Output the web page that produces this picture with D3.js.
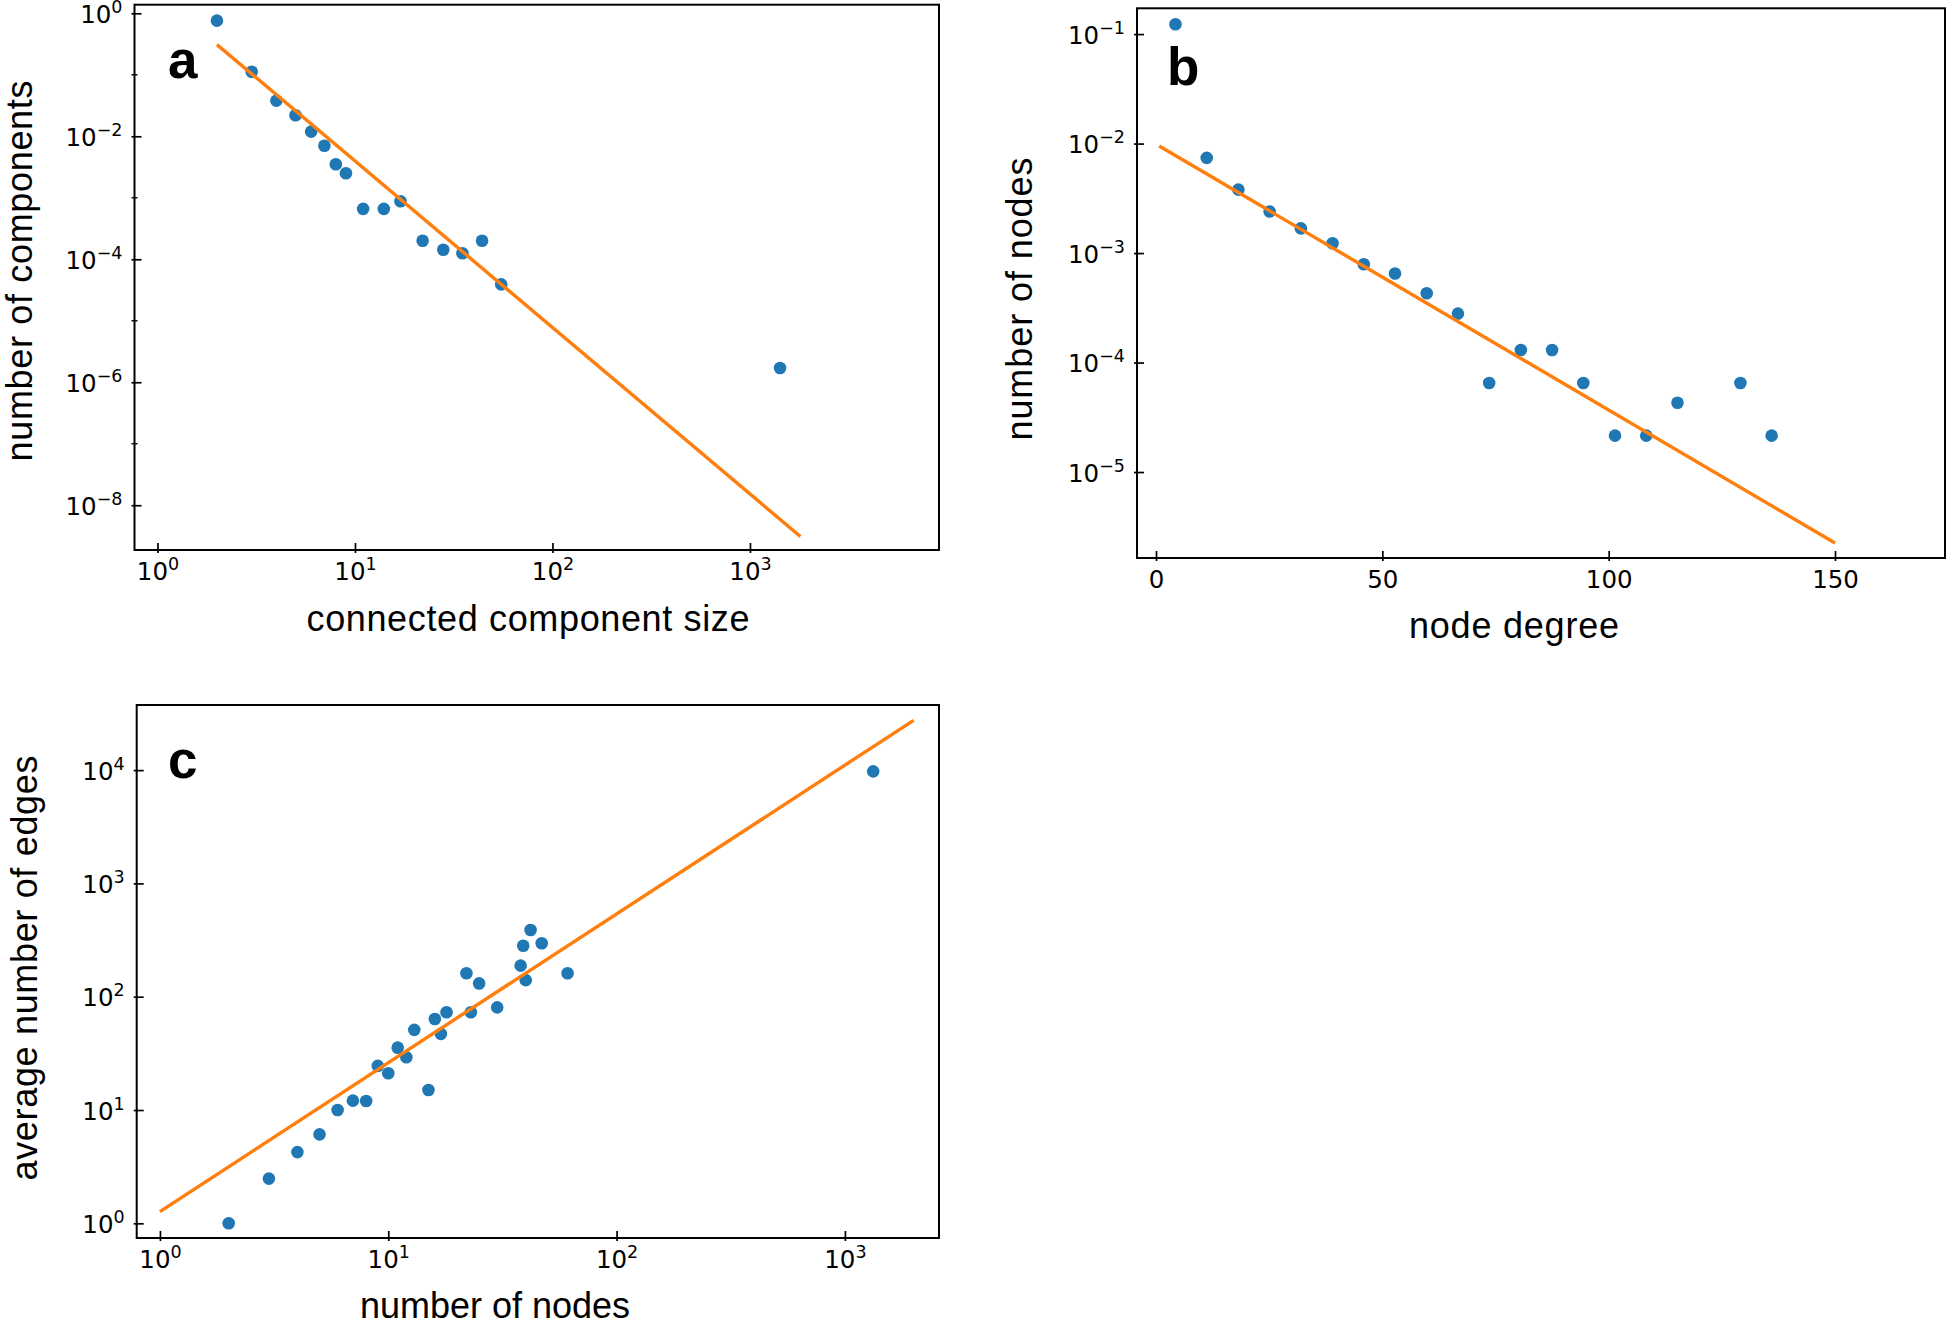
<!DOCTYPE html>
<html>
<head>
<meta charset="utf-8">
<script src="https://cdn.jsdelivr.net/npm/d3@7"></script>
<style>
  html, body { margin: 0; padding: 0; background: #fff; }
  svg { display: block; }
</style>
</head>
<body>
<svg id="chart" width="1947" height="1321"></svg>
<script>
// ---------- data ----------
// panel a: connected component size distribution
const sizeA  = [2, 3, 4, 5, 6, 7, 8, 9, 11, 14, 17, 22, 28, 35, 44, 55, 1420];
const countA = [0.76, 0.112, 0.038, 0.022, 0.0119, 0.0070, 0.0035, 0.0025, 6.6e-4, 6.6e-4, 8.8e-4, 2.0e-4, 1.43e-4, 1.25e-4, 2.0e-4, 3.9e-5, 1.7e-6];
const fitSizeA  = [2, 1800];
const fitCountA = [0.31, 3.1e-9];

// panel b: node degree distribution
const degreeB = [4.3, 11.2, 18.2, 25.1, 32.0, 39.0, 45.9, 52.8, 59.8, 66.7, 73.6, 80.6, 87.5, 94.4, 101.4, 108.3, 115.2, 129.1, 136.0];
const nodesB  = [0.123, 0.0074, 0.0038, 0.0024, 0.00168, 0.00123, 0.00079, 0.00065, 0.00043, 0.00028, 6.5e-5, 1.3e-4, 1.3e-4, 6.5e-5, 2.15e-5, 2.15e-5, 4.3e-5, 6.5e-5, 2.15e-5];
const fitDegreeB = [0.7, 150];
const fitNodesB  = [0.0095, 2.25e-6];

// panel c: average number of edges vs number of nodes
const nodesC = [2, 3, 4, 5, 6, 7, 8, 9, 10, 11, 12, 13, 15, 16, 17, 18, 22, 23, 25, 30, 38, 39, 40, 42, 47, 61, 1330];
const edgesC = [1.0, 2.48, 4.25, 6.1, 10, 12.1, 12.0, 24.5, 21.1, 35.5, 29.2, 51, 15.0, 63.5, 47, 73, 161, 73, 131, 80.5, 188, 282, 140, 388, 296, 161, 9750];
const fitNodesC = [1, 2000];
const fitEdgesC = [1.27, 27500];

// ticks
const logTicksA_x = [1, 10, 100, 1000];
const logTicksA_y = [1, 1e-2, 1e-4, 1e-6, 1e-8];
const minorTicksA_y = [1e-1, 1e-3, 1e-5, 1e-7];
const ticksB_x = [0, 50, 100, 150];
const logTicksB_y = [1e-1, 1e-2, 1e-3, 1e-4, 1e-5];
const logTicksC_x = [1, 10, 100, 1000];
const logTicksC_y = [1, 10, 100, 1000, 10000];

// ---------- drawing ----------
const svg = d3.select('#chart');
const BLUE = '#1f77b4', ORANGE = '#ff7f0e';
const TICK_FONT = "'DejaVu Sans', sans-serif";
const LABEL_FONT = "'Liberation Sans', Arial, sans-serif";

function sup(sel, v) {
  const e = Math.round(Math.log10(v));
  sel.text(null);
  sel.append('tspan').text('10');
  sel.append('tspan').attr('dy', -10).attr('font-size', 17.5)
     .text(e < 0 ? '\u2212' + (-e) : String(e));
}

function panel(cfg) {
  const g = svg.append('g');
  const {l, r, t, b} = cfg.box;
  const x = cfg.xScale.range([l, r]);
  const y = cfg.yScale.range([b, t]);

  // points
  g.append('g').selectAll('circle')
    .data(cfg.xs.map((v, i) => [v, cfg.ys[i]]))
    .join('circle')
    .attr('cx', d => x(d[0])).attr('cy', d => y(d[1]))
    .attr('r', 6.3).attr('fill', BLUE);

  // fit line
  g.append('path')
    .datum(cfg.fx.map((v, i) => [v, cfg.fy[i]]))
    .attr('d', d3.line().x(d => x(d[0])).y(d => y(d[1])))
    .attr('fill', 'none').attr('stroke', ORANGE).attr('stroke-width', 3.4);

  // x axis
  const xa = g.append('g').attr('transform', `translate(0,${b})`)
    .call(d3.axisBottom(x).tickValues(cfg.xTicks).tickSizeInner(-7).tickSizeOuter(0));
  xa.select('.domain').remove();
  xa.attr('font-family', TICK_FONT).attr('font-size', 24.5);
  xa.selectAll('.tick line').attr('y1', 3).attr('stroke', '#000').attr('stroke-width', 1.7);
  xa.selectAll('.tick text').attr('y', 30).attr('dy', null).attr('fill', '#000')
    .each(function(d) { if (cfg.xLog) sup(d3.select(this), d); else d3.select(this).text(d); });

  // y axis
  const ya = g.append('g').attr('transform', `translate(${l},0)`)
    .call(d3.axisLeft(y).tickValues(cfg.yTicks).tickSizeInner(-7).tickSizeOuter(0));
  ya.select('.domain').remove();
  ya.attr('font-family', TICK_FONT).attr('font-size', 24.5);
  ya.selectAll('.tick line').attr('x1', -3).attr('stroke', '#000').attr('stroke-width', 1.7);
  ya.selectAll('.tick text').attr('x', -12).attr('y', 9).attr('dy', null).attr('fill', '#000')
    .each(function(d) { sup(d3.select(this), d); });

  if (cfg.yMinor) {
    g.append('g').selectAll('line').data(cfg.yMinor).join('line')
      .attr('x1', l - 3).attr('x2', l + 3)
      .attr('y1', d => y(d)).attr('y2', d => y(d))
      .attr('stroke', '#000').attr('stroke-width', 1.4);
  }

  // frame
  g.append('rect').attr('x', l).attr('y', t).attr('width', r - l).attr('height', b - t)
    .attr('fill', 'none').attr('stroke', '#000').attr('stroke-width', 2);

  // axis labels
  g.append('text').attr('x', cfg.xLabel.cx).attr('y', cfg.xLabel.base)
    .attr('text-anchor', 'middle').attr('font-family', LABEL_FONT).attr('font-size', 36)
    .attr('textLength', cfg.xLabel.len).attr('lengthAdjust', 'spacing')
    .text(cfg.xLabel.text);
  g.append('text')
    .attr('transform', `translate(${cfg.yLabel.base},${cfg.yLabel.cy}) rotate(-90)`)
    .attr('text-anchor', 'middle').attr('font-family', LABEL_FONT).attr('font-size', 36)
    .attr('textLength', cfg.yLabel.len).attr('lengthAdjust', 'spacing')
    .text(cfg.yLabel.text);

  // panel letter
  g.append('text').attr('x', cfg.letter.x).attr('y', cfg.letter.y)
    .attr('font-family', LABEL_FONT).attr('font-weight', 'bold').attr('font-size', 53)
    .text(cfg.letter.text);
}

panel({
  box: {l: 134.5, r: 939, t: 4.7, b: 550},
  xScale: d3.scaleLog().domain([0.765, 9060]), xLog: true,
  yScale: d3.scaleLog().domain([1.87e-9, 1.38]),
  xs: sizeA, ys: countA, fx: fitSizeA, fy: fitCountA,
  xTicks: logTicksA_x, yTicks: logTicksA_y, yMinor: minorTicksA_y,
  xLabel: {text: 'connected component size', cx: 528, base: 631, len: 443},
  yLabel: {text: 'number of components', cy: 271, base: 32, len: 381},
  letter: {text: 'a', x: 168, y: 78}
});

panel({
  box: {l: 1137, r: 1945, t: 8.3, b: 558},
  xScale: d3.scaleLinear().domain([-4.2, 174.3]), xLog: false,
  yScale: d3.scaleLog().domain([1.64e-6, 0.172]),
  xs: degreeB, ys: nodesB, fx: fitDegreeB, fy: fitNodesB,
  xTicks: ticksB_x, yTicks: logTicksB_y,
  xLabel: {text: 'node degree', cx: 1514, base: 638, len: 210},
  yLabel: {text: 'number of nodes', cy: 299, base: 1032, len: 283},
  letter: {text: 'b', x: 1167, y: 85}
});

panel({
  box: {l: 136.7, r: 939, t: 705, b: 1238},
  xScale: d3.scaleLog().domain([0.791, 2583]), xLog: true,
  yScale: d3.scaleLog().domain([0.742, 37550]),
  xs: nodesC, ys: edgesC, fx: fitNodesC, fy: fitEdgesC,
  xTicks: logTicksC_x, yTicks: logTicksC_y,
  xLabel: {text: 'number of nodes', cx: 495, base: 1318, len: 270},
  yLabel: {text: 'average number of edges', cy: 968, base: 37, len: 425},
  letter: {text: 'c', x: 168, y: 778}
});
</script>
</body>
</html>
